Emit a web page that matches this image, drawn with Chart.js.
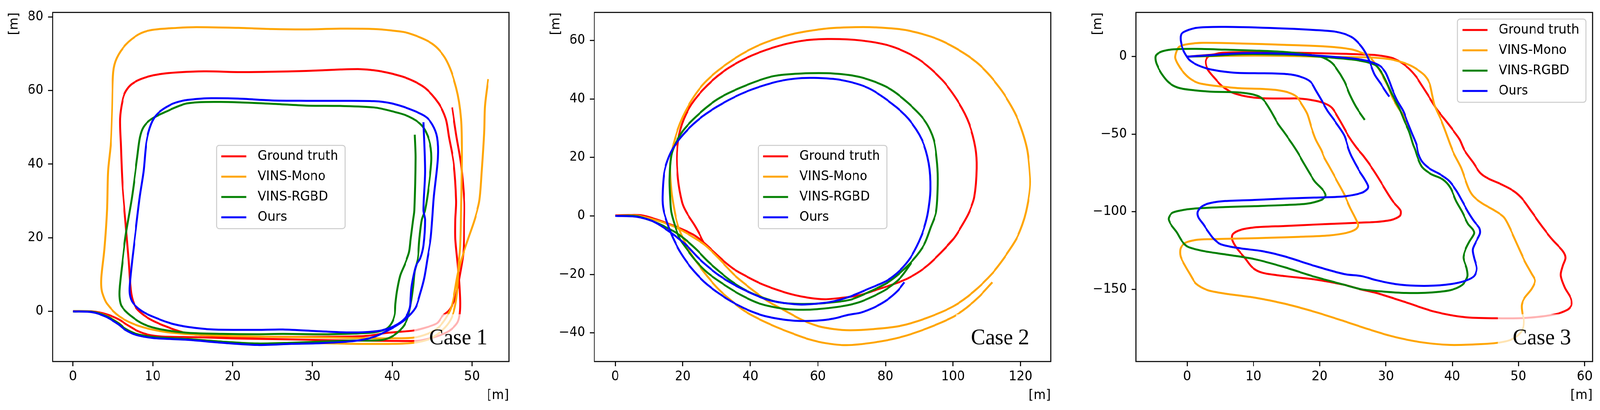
<!DOCTYPE html>
<html lang="en">
<head>
  <meta charset="utf-8" />
  <title>Trajectory comparison</title>
  <style>
html, body {
  margin: 0;
  padding: 0;
  background: #fff;
  overflow: hidden;
}
#page {
  position: relative;
  width: 4232px;
  height: 1049px;
  transform-origin: 0 0;
}
canvas {
  position: absolute;
  top: 0;
}
  </style>
</head>
<body>
  <div id="page">
    <canvas id="case1" width="1366" height="1049" style="left:0px"></canvas>
    <canvas id="case2" width="1366" height="1049" style="left:1433px"></canvas>
    <canvas id="case3" width="1366" height="1049" style="left:2866px"></canvas>
  </div>
  <script src="https://cdn.jsdelivr.net/npm/chart.js"></script>
  <script>
const SERIES_NAMES = ['Ground truth', 'VINS-Mono', 'VINS-RGBD', 'Ours'];
const SERIES_COLORS = ['red', 'orange', 'green', 'blue'];

// ---- Case 1 ----
const case1GroundTruth = [[0,0.1],[2.4,0],[4.1,-0.7],[5.7,-2.1],[6.7,-3.5],[8.1,-5.3],[9.4,-6.3],[11.1,-6.8],[15.5,-7.0],[20,-7.3],[25,-7.5],[30,-7.7],[35,-7.9],[40,-8.0],[42.7,-8.0],[43.7,-7.8],[45.6,-6.75],[47.1,-5.3],[48.1,-3.2],[48.4,-1.2],[48.5,2.1],[48.4,7.3],[48.2,12.6],[47.9,19.7],[47.9,24.9],[48.0,30],[47.7,40],[47.1,47.3],[46.7,52.3],[45.8,56.5],[44.1,60.7],[42.0,63.2],[39.9,64.6],[37.7,65.5],[36.0,65.8],[33.5,65.7],[29.2,65.3],[24.9,65.1],[20.7,65.0],[16.4,65.2],[11.4,64.6],[9.0,63.5],[7.4,61.8],[6.6,59.7],[6.2,57.2],[5.9,52.3],[6.0,45.2],[6.2,34.6],[6.6,24.0],[7.0,13.4],[7.3,5.0],[7.8,1.4],[8.7,-0.7],[10.0,-2.5],[11.8,-4.2],[13.5,-5.5],[15.5,-6.3],[20,-6.8],[25,-6.9],[30,-6.9],[35,-6.8],[37,-6.6],[39.4,-5.8],[42.6,-5.2],[44.0,-4.5],[45.6,-3.2],[46.3,-1.2],[47.1,0.3],[47.8,3.1],[48.1,5.6],[48.4,9.1],[48.9,16.1],[49.0,24.9],[49.0,30],[48.6,40],[48.0,48],[47.5,55.4]];
const case1VinsMono = [[0,0],[2.4,-0.1],[4.1,-1.1],[5.7,-3.1],[6.5,-4.6],[7.8,-6.0],[10,-7.0],[14.4,-7.5],[18.7,-8.2],[23.1,-8.8],[27.4,-8.7],[31,-8.6],[35,-8.8],[40,-8.8],[42.7,-8.5],[44.5,-7.6],[46,-5.6],[47.1,-3],[47.7,0],[48.1,5],[48.3,12.6],[48.5,17.9],[48.6,27.5],[48.7,41.7],[48.6,52.3],[48.0,60.7],[46.7,68.5],[45,72.7],[42,75.6],[39.9,76.3],[37.7,76.7],[33.5,76.8],[29.2,76.6],[24.9,76.7],[20.7,77.0],[15.5,77.2],[13.0,77.0],[9.8,76.4],[8.2,75.2],[6.6,72.4],[5.5,68.8],[5.06,65.0],[4.9,54.4],[4.75,45.9],[4.4,38.1],[4.27,27.5],[3.95,17.0],[3.6,9.9],[3.56,7.1],[3.7,5.0],[4.27,2.1],[5.85,-1.4],[8.2,-3.9],[11.4,-5.5],[15.5,-6.3],[20,-6.7],[25,-6.9],[30,-7.0],[35,-7.2],[40,-7.3],[42.7,-7.1],[44.5,-6.0],[45.8,-4.3],[46.8,-1.5],[47.5,2],[48.2,10.2],[48.7,14.4],[49.5,19.7],[50.3,24.9],[50.9,30],[51.2,38.1],[51.5,48.7],[51.6,55.8],[52.0,63.1]];
const case1VinsRgbd = [[0,0],[2.4,-0.1],[4.1,-1.2],[5.7,-3.2],[6.5,-4.6],[7.8,-6.0],[10,-6.9],[14.4,-7.5],[18.7,-8.2],[23.1,-8.7],[27.4,-8.5],[31,-8.2],[35,-7.9],[38.5,-7.8],[40,-6.75],[41.3,-4.3],[41.9,-1.8],[42.3,2.1],[42.6,6.6],[42.8,10.9],[43.2,14.4],[43.4,19.7],[43.7,24.9],[44.1,27.5],[44.6,34.6],[44.9,41.7],[44.6,46.6],[43.7,50.5],[42,53],[39.9,54.4],[37.7,55.4],[33.5,55.8],[29.2,55.9],[24.9,56.4],[18.5,56.9],[14.3,56.5],[11.4,54.0],[9.8,52.2],[8.85,50.1],[8.4,47.3],[8.05,41.7],[7.4,31.1],[6.6,20.5],[6.2,13.4],[5.85,6.3],[5.85,3.5],[6.1,1.4],[7.2,-1.1],[8.9,-3.5],[11.1,-4.9],[14.4,-5.8],[18.7,-6.1],[23.1,-6.2],[26.3,-6.1],[31,-6.2],[35.3,-6.0],[37.7,-5.7],[39.2,-4.8],[39.9,-3.2],[40.3,-0.8],[40.4,2.1],[40.6,5.6],[41.0,9.8],[41.6,13.0],[42.1,16.1],[42.3,19.7],[42.6,24.9],[42.75,27.5],[42.9,41.7],[42.8,48.0]];
const case1Ours = [[0,0],[2.4,-0.2],[4.1,-1.4],[5.7,-3.5],[6.5,-4.9],[7.8,-6.3],[10,-7.2],[14.4,-7.7],[18.7,-8.5],[23.1,-9.1],[27.4,-8.8],[31,-8.6],[35.3,-8.0],[37.7,-6.9],[40,-4.5],[41.6,-2.2],[42.9,1.0],[43.5,4.9],[44.0,9.1],[44.4,14.4],[44.8,19.7],[45.0,24.9],[45.2,31.1],[45.7,41.7],[45.6,47.3],[45.0,50.8],[44.1,53.0],[42.0,55.1],[39.9,56.5],[37.7,57.1],[33.5,57.2],[29.2,57.2],[24.9,57.3],[20.7,57.8],[17.3,57.9],[15.5,57.7],[13.7,57.2],[12.2,56.1],[10.6,53.7],[9.8,50.9],[9.2,45.9],[8.85,38.1],[8.37,31.1],[7.9,22.6],[7.4,13.4],[7.1,6.3],[7.2,3.9],[7.6,2.1],[8.7,0],[10.0,-1.4],[12.2,-3.2],[14.4,-4.2],[17.6,-4.9],[23.1,-5.0],[26.3,-4.9],[31.1,-5.4],[35.3,-5.7],[38.5,-5.2],[40.3,-3.9],[41.6,-1.8],[42.2,1.0],[42.3,3.8],[42.4,6.6],[42.7,10.2],[43.0,12.6],[43.5,14.4],[43.9,17.9],[44.1,24.9],[43.9,27.5],[44.1,38.1],[43.9,51.4]];
const case1XTicks = [0, 10, 20, 30, 40, 50];
const case1YTicks = [0, 20, 40, 60, 80];
const case1XLimits = [-2.55, 54.6];
const case1YLimits = [-13.6, 81.2];

// ---- Case 2 ----
const case2GroundTruth = [[0,0.2],[4.0,0.3],[7.9,0.2],[11.7,-1.0],[15.6,-2.6],[19.5,-4.4],[23.4,-6.6],[26.3,-9.2],[29.2,-12.3],[32.1,-15.4],[35.0,-18.1],[38.9,-20.7],[42.8,-23.0],[47.7,-25.2],[52.5,-26.9],[57.4,-28.0],[62.2,-28.5],[67.1,-28.0],[72.0,-27.2],[76.5,-25.6],[84.4,-22.5],[88.3,-20.3],[92.2,-17.2],[96.2,-12.8],[100.1,-7.9],[102.8,-3.0],[104.8,1.4],[106.3,6.5],[107.0,16.3],[106.6,23.4],[104.8,31.4],[101.8,38.5],[96.8,46.5],[89.8,53.6],[81.8,58.0],[72.8,60.0],[62.8,60.5],[54.8,59.8],[46.8,57.6],[38.8,54.0],[31.8,49.2],[25.8,42.9],[21.8,36.7],[19.3,29.6],[18.3,21.6],[18.6,12.7],[19.8,4.7],[21.0,1.4],[23.4,-3.0],[24.9,-6.1],[26.3,-9.2],[29.2,-12.3],[32.1,-15.4],[35.0,-18.1],[38.9,-20.7],[42.8,-23.0],[47.7,-25.2],[52.5,-26.9],[57.4,-28.0],[62.2,-28.5],[67.1,-28.0],[72.0,-27.2],[76.5,-25.6],[84.4,-22.5],[88.3,-20.3],[92.2,-17.2],[96.2,-12.8],[100.1,-7.9]];
const case2VinsMono = [[0,0],[6.4,0.1],[11.3,-1.2],[16.1,-3.0],[19.5,-4.8],[23.4,-7.5],[26.3,-9.7],[29.2,-12.8],[32.1,-16.3],[35.0,-19.9],[38.0,-22.9],[41.4,-26.0],[45.2,-29.2],[50.1,-32.3],[55.0,-35.4],[59.8,-37.6],[64.7,-38.7],[69.5,-39.1],[76.5,-38.7],[84.4,-37.6],[92.2,-34.9],[100.1,-30.9],[106.0,-26.0],[111.8,-19.4],[115.8,-13.2],[118.9,-7.5],[120.5,-3.0],[121.6,1.4],[122.6,8],[122.8,12.7],[121.8,23.4],[118.8,34.0],[113.8,43.8],[106.8,52.7],[96.8,59.8],[86.8,63.4],[76.8,64.5],[68.8,64.5],[61.8,64.0],[51.8,62.0],[41.8,58.0],[32.8,51.8],[25.8,44.7],[20.8,35.8],[17.8,26.9],[16.3,18.0],[16.6,9.0],[17.6,1.4],[18.5,-3.0],[20.0,-7.5],[21.9,-11.9],[24.4,-16.3],[27.3,-20.7],[30.7,-25.2],[34.1,-28.7],[38.0,-32.3],[42.8,-35.4],[47.7,-38.0],[52.5,-40.2],[57.4,-42.2],[62.2,-43.5],[68.4,-44.2],[76.5,-43.3],[84.4,-41.5],[92.2,-38.5],[100.1,-34.5],[104.0,-31.4],[107.9,-27.4],[111.6,-22.7]];
const case2VinsRgbd = [[0,0],[6.4,-0.1],[11.3,-1.9],[15.1,-3.9],[18.5,-6.1],[21.5,-8.8],[24.4,-11.9],[27.3,-15.4],[30.7,-18.9],[34.6,-22.5],[38.9,-25.6],[43.8,-28.0],[48.7,-29.6],[55.0,-30.1],[62.2,-29.8],[69.5,-28.7],[74.6,-26.3],[80.5,-22.9],[84.4,-19.4],[88.3,-14.9],[91.5,-9.7],[93.4,-3.9],[95.0,1.4],[95.5,10.9],[95.3,18.0],[94.3,26.0],[91.8,32.3],[86.8,38.5],[80.8,43.8],[72.8,47.4],[64.8,48.7],[54.8,48.7],[46.8,47.8],[38.8,44.7],[30.8,40.3],[24.8,34.9],[19.8,28.7],[16.8,21.6],[16.1,12.7],[16.3,5.6],[16.6,1.4],[17.6,-3.0],[19.0,-7.5],[21.0,-11.0],[23.9,-15.4],[27.3,-19.4],[32.1,-23.4],[37.0,-26.9],[42.8,-30.0],[50.1,-31.8],[55.0,-32.1],[59.8,-31.9],[67.1,-30.9],[72,-29.6],[76.5,-27.4],[80.5,-24.9],[84.4,-21.2],[87.7,-15.9]];
const case2Ours = [[0,0],[6.4,-0.3],[11.3,-1.9],[15.1,-4.6],[18.5,-7.5],[21.5,-10.5],[24.4,-14.1],[27.3,-17.2],[30.7,-20.3],[35.0,-23.4],[40.4,-26.5],[45.2,-28.7],[50.1,-29.8],[55.0,-30.3],[59.8,-30.0],[64.7,-29.2],[69.5,-27.6],[75,-24.9],[80.5,-22.1],[84.4,-18.5],[87.5,-14.1],[89.9,-8.8],[91.5,-3.9],[92.6,1.4],[93.3,9.2],[92.8,18.0],[90.8,26.0],[86.8,33.2],[81.8,38.5],[74.8,43.8],[66.8,46.5],[58.8,47.2],[52.8,46.9],[46.8,45.6],[38.8,42.5],[31.8,38.5],[25.8,34.0],[20.8,28.7],[16.8,22.5],[14.6,15.4],[14.0,6.5],[14.3,2.0],[15.6,-3.0],[17.1,-7.5],[19.5,-12.8],[22.4,-17.6],[26.3,-22.5],[30.7,-26.5],[35.5,-30.0],[40.4,-32.7],[45.2,-34.5],[52.5,-35.8],[59.8,-35.8],[64.7,-35.1],[69.1,-33.8],[72.6,-33.1],[76.5,-31.4],[80.5,-28.7],[83.6,-25.6],[85.6,-22.7]];
const case2XTicks = [0, 20, 40, 60, 80, 100, 120];
const case2YTicks = [-40, -20, 0, 20, 40, 60];
const case2XLimits = [-6.18, 128.9];
const case2YLimits = [-49.8, 69.6];

// ---- Case 3 ----
const case3GroundTruth = [[0,0],[3.5,1.2],[5.7,2.2],[10,2.6],[15,2.6],[20,2.2],[24,1.8],[26.3,1.4],[28.5,1.0],[30.8,-0.7],[32.1,-3.2],[33.4,-7.4],[34.6,-13.2],[35.5,-19.1],[36.6,-26.6],[37.7,-34.1],[38.8,-40.0],[40.0,-46.7],[41.1,-53.3],[41.8,-60.0],[43.1,-67.9],[44.2,-74.8],[45.3,-78.3],[47.6,-82.7],[49.4,-87.0],[50.7,-92.3],[52.0,-100.1],[53.6,-109.7],[55.2,-118.4],[56.7,-125.4],[57.1,-129.7],[56.7,-134.9],[56.4,-141.0],[57.0,-148.9],[57.9,-155.8],[58.0,-160.2],[57.4,-163.2],[55.4,-166.3],[51.0,-168.5],[46.7,-168.7],[41.9,-168.0],[37.4,-164.5],[33.0,-158.4],[28.5,-152.3],[26.3,-150.2],[23.7,-147.1],[19.2,-143.6],[14.7,-141.5],[11.3,-139.3],[9.8,-135.8],[8.7,-129.7],[7.5,-123.6],[6.8,-117.9],[6.9,-114.5],[8.0,-111.8],[10.2,-110.1],[14.7,-109.2],[19.2,-108.3],[23.7,-107.5],[26.3,-107.0],[28.5,-106.6],[30.8,-105.3],[32.1,-102.7],[32.2,-99.2],[31.0,-93.1],[29.6,-83.5],[28.1,-73.1],[26.6,-64.0],[25.5,-58.4],[24.3,-50.8],[23.0,-40.8],[21.9,-33.3],[20.9,-30.4],[19.2,-28.3],[16.9,-27.0],[14.7,-27.0],[11.3,-26.8],[9.1,-25.8],[6.9,-23.3],[5.3,-19.1],[4.0,-13.2],[3.1,-8.2],[2.8,-3.2],[3.1,-0.3],[4.0,1.4],[5.7,2.6],[10,2.8],[15,2.6],[20,2.2],[24,1.8],[26.3,1.4],[28.5,1.0],[30.8,-0.7],[32.1,-3.2],[33.4,-7.4],[34.6,-13.2],[35.5,-19.1],[36.6,-26.6],[37.7,-34.1],[38.8,-40.0],[40.0,-46.7]];
const case3VinsMono = [[0,0],[3.5,0.3],[8,0.6],[12.5,0.6],[16.9,0.3],[21.4,-0.2],[24.8,-0.3],[27.5,-0.5],[30.3,-1.5],[32.1,-3.2],[33.7,-5.7],[35.0,-9.1],[35.9,-12.4],[36.6,-17.4],[37.0,-24.9],[37.3,-30.8],[37.7,-35.0],[38.4,-41.6],[39.0,-48.3],[39.7,-56.7],[40.2,-62],[41.3,-71.3],[41.9,-78.3],[42.6,-86.1],[43.3,-90.5],[44.6,-94.8],[46.4,-99.2],[47.8,-103.5],[48.7,-110.5],[49.8,-121.0],[50.9,-131.4],[52.0,-140.1],[52.5,-144.5],[52.0,-149.7],[50.9,-155.8],[50.5,-160.2],[50.6,-165.8],[50.8,-168.9],[50.7,-175.0],[50.0,-179.4],[48.7,-182.8],[46.7,-184.6],[44.2,-185.4],[39.7,-185.9],[35.2,-184.1],[30.8,-180.2],[26.8,-175],[23.7,-170.6],[19.2,-164.5],[14.7,-159.3],[10.2,-155.4],[5.7,-152.8],[3.1,-150.6],[1.3,-146.2],[0.4,-140.1],[-0.3,-134.9],[-1.0,-128.8],[-1.0,-123.6],[-0.3,-120.1],[1.3,-118.2],[3.5,-117.7],[8.0,-117.3],[12.5,-116.8],[16.9,-116.2],[21.4,-115.3],[24.1,-113.6],[25.4,-111.4],[25.8,-108.8],[25.4,-104.4],[24.6,-97.5],[23.7,-88.8],[22.5,-79.2],[21.4,-70.5],[20.7,-65.1],[20.2,-60],[19.4,-53.4],[18.7,-45.0],[18.1,-36.7],[17.2,-30.0],[16.5,-25.8],[15.4,-23.3],[13.6,-21.6],[11.3,-20.8],[8.0,-20.4],[5.7,-19.5],[3.5,-18.4],[1.7,-17.0],[0.4,-14.1],[-0.75,-9.1],[-1.4,-4.9],[-1.8,-0.7],[-1.6,3.5],[-1.2,6.4],[0.15,8.1],[2.4,8.9],[8.0,8.5],[14.7,7.6],[21.4,6.4],[24.8,4.7],[26.3,2.6],[27.4,0.5],[28.3,-4.0],[29.0,-8.5],[29.6,-13.2],[30.3,-19.1],[31.0,-26.6],[31.9,-33.3],[32.8,-39.1],[33.6,-46.7]];
const case3VinsRgbd = [[0,0],[3.5,0.5],[8,1.5],[12.5,1.5],[16.9,1.0],[21.4,-0.5],[24.8,-1.8],[26.3,-2.8],[27.6,-4.1],[28.5,-5.7],[29.4,-10.7],[30.1,-16.6],[30.8,-23.3],[31.4,-28.3],[32.1,-34.1],[32.8,-41.6],[33.5,-48.3],[34.1,-56.7],[34.4,-60],[34.8,-65.2],[35.5,-71.4],[36.8,-75.7],[38.6,-79.2],[39.7,-84.4],[40.6,-93.1],[41.5,-100.1],[42.4,-107.9],[43.1,-111.4],[43.3,-114.0],[42.6,-119.2],[42.0,-124.5],[41.7,-129.7],[42.2,-136.7],[42.3,-141.9],[41.5,-147.2],[39.7,-150.6],[36.4,-152.2],[33.0,-152.4],[29.6,-151.5],[26.3,-150.0],[23.7,-147.1],[19.2,-141.9],[14.7,-135.8],[10.2,-130.6],[5.7,-127.5],[2.4,-125.3],[0.15,-122.7],[-0.75,-119.2],[-1.6,-113.1],[-2.5,-107.9],[-2.8,-104.4],[-2.3,-100.9],[-1.0,-99.2],[1.3,-97.9],[5.7,-97.0],[10.2,-96.4],[14.7,-95.7],[18.1,-94.8],[20.3,-92.3],[20.9,-89.6],[20.5,-86.1],[19.2,-80.1],[17.6,-68.7],[16.9,-63.4],[15.8,-55.9],[14.7,-49.2],[13.6,-42.5],[12.5,-34.1],[11.6,-28.3],[10.7,-25.4],[9.1,-23.7],[6.9,-22.9],[3.5,-22.6],[0.8,-21.6],[-1.4,-20.0],[-2.8,-16.6],[-3.9,-10.7],[-4.6,-4.9],[-4.8,-0.7],[-4.6,1.4],[-3.7,3.5],[-2.1,4.7],[1.3,5.0],[5.7,4.5],[10.2,3.9],[14.7,3.0],[18.1,1.4],[20.3,-0.3],[21.6,-3.2],[22.5,-7.4],[23.7,-15.8],[24.6,-24.9],[25.5,-32.5],[26.8,-40.8]];
const case3Ours = [[0,0],[3.5,1.0],[8.0,2.2],[12.5,2.2],[16.9,1.4],[21.4,0.1],[24.8,-1.1],[26.3,-2.0],[27.6,-3.2],[29.0,-5.7],[29.9,-9.9],[30.5,-15.8],[31.0,-21.6],[31.7,-28.3],[32.6,-35.0],[33.2,-41.6],[33.9,-49.2],[34.6,-56.7],[34.9,-62.6],[35.5,-67.9],[36.6,-72.2],[38.1,-75.7],[39.5,-80.0],[40.6,-86.2],[41.5,-93.1],[42.4,-100.1],[43.3,-106.2],[44.1,-110.5],[44.2,-114.0],[43.5,-120.1],[43.1,-124.5],[43.3,-129.7],[43.7,-136.7],[43.3,-141.5],[42.0,-144.5],[39.7,-146.7],[36.4,-147.8],[33.0,-147.4],[30.8,-146.2],[28.5,-144.1],[26.3,-141.5],[23.7,-140.2],[19.2,-134.9],[14.7,-128.8],[11.3,-125.4],[8.0,-123.6],[5.1,-121.0],[4.0,-117.5],[3.1,-112.3],[2.4,-107.9],[1.7,-103.6],[1.6,-100.1],[2.2,-96.6],[3.5,-94.4],[5.7,-93.1],[10.2,-92.4],[14.7,-91.5],[19.2,-90.9],[23.7,-90.1],[26.3,-87.9],[27.2,-85.3],[27.3,-83.5],[26.8,-79.2],[25.9,-73.1],[24.8,-64.2],[24.4,-60],[23.7,-50.8],[22.3,-41.6],[21.2,-35.0],[20.3,-28.3],[19.4,-21.6],[18.7,-16.6],[17.6,-13.7],[15.8,-11.6],[13.6,-10.9],[10.2,-10.7],[6.9,-10.3],[3.5,-8.2],[1.7,-5.7],[0.4,-2.4],[-0.3,1.8],[-0.75,6.0],[-1.0,11.8],[-0.75,15.2],[1.3,18.5],[5.7,19.2],[12.5,18.5],[19.2,17.2],[22.5,16.0],[24.8,12.7],[26.1,7.6],[26.9,2.6],[27.6,-4.0],[28.3,-11.6],[29.2,-17.4],[30.1,-23.3],[30.5,-25.8]];
const case3XTicks = [0, 10, 20, 30, 40, 50, 60];
const case3YTicks = [-150, -100, -50, 0];
const case3XLimits = [-7.71, 61.17];
const case3YLimits = [-196.6, 28.5];

const FONT = "'DejaVu Sans', sans-serif";
const SERIF = "'Liberation Serif', 'Times New Roman', serif";

// layout is written for a 4232px wide page; squeeze it horizontally
// when the window is narrower so all three panels stay visible
const pageScaleX = window.innerWidth / 4232;
if (Math.abs(pageScaleX - 1) > 0.002) {
  document.getElementById('page').style.transform = 'scale(' + pageScaleX + ', 1)';
}

// matplotlib style minus sign
function tickText(v) {
  const r = Math.round(v);
  return r < 0 ? '\u2212' + (-r) : String(r);
}

// spines, "Case n" label on a half transparent box, and the legend frame
const framePlugin = {
  id: 'frame',
  afterDatasetsDraw(chart, args, opts) {
    const ctx = chart.ctx;
    const a = chart.chartArea;

    ctx.save();
    ctx.beginPath();
    ctx.rect(a.left, a.top, a.right - a.left, a.bottom - a.top);
    ctx.clip();
    ctx.font = '57px ' + SERIF;
    const tw = ctx.measureText(opts.caseLabel).width;
    const tx = a.right - 57;
    const ty = a.bottom - 44;
    ctx.fillStyle = 'rgba(255,255,255,0.7)';
    ctx.fillRect(tx - tw - 40, ty - 77, tw + 80, 200);
    ctx.fillStyle = '#000';
    ctx.textAlign = 'right';
    ctx.textBaseline = 'alphabetic';
    ctx.fillText(opts.caseLabel, tx, ty);
    ctx.restore();

    ctx.save();
    ctx.strokeStyle = '#000';
    ctx.lineWidth = 2.7;
    ctx.strokeRect(a.left, a.top, a.right - a.left, a.bottom - a.top);

    // legend box
    const w = 340, h = 213, r = 7;
    let lx, ly;
    if (opts.legendLoc === 'upper right') {
      lx = a.right - 17 - w;
      ly = a.top + 17;
    } else {
      lx = (a.left + a.right) / 2 - w / 2;
      ly = (a.top + a.bottom) / 2 - h / 2;
    }
    ctx.beginPath();
    ctx.moveTo(lx + r, ly);
    ctx.arcTo(lx + w, ly, lx + w, ly + h, r);
    ctx.arcTo(lx + w, ly + h, lx, ly + h, r);
    ctx.arcTo(lx, ly + h, lx, ly, r);
    ctx.arcTo(lx, ly, lx + w, ly, r);
    ctx.closePath();
    ctx.fillStyle = 'rgba(255,255,255,0.8)';
    ctx.fill();
    ctx.strokeStyle = '#cccccc';
    ctx.lineWidth = 2.5;
    ctx.stroke();

    ctx.font = '33px ' + FONT;
    ctx.textAlign = 'left';
    ctx.textBaseline = 'middle';
    chart.data.datasets.forEach((ds, i) => {
      const y = ly + 28 + 52 * i;
      ctx.beginPath();
      ctx.moveTo(lx + 13, y);
      ctx.lineTo(lx + 79, y);
      ctx.strokeStyle = ds.borderColor;
      ctx.lineWidth = 5;
      ctx.stroke();
      ctx.fillStyle = '#000';
      ctx.fillText(ds.label, lx + 109, y + 1);
    });
    ctx.restore();
  }
};

function axis(limits, ticks, horizontal) {
  return {
    type: 'linear',
    position: horizontal ? 'bottom' : 'left',
    min: limits[0],
    max: limits[1],
    afterBuildTicks: s => { s.ticks = ticks.map(v => ({value: v})); },
    afterFit: s => {
      if (horizontal) s.height = 124;
      else s.width = 139;
    },
    grid: {
      display: true,
      drawOnChartArea: false,
      drawTicks: true,
      tickLength: 12,
      tickWidth: 2.7,
      tickColor: '#000'
    },
    border: { display: false },
    ticks: {
      color: '#000',
      font: { family: FONT, size: 33 },
      padding: horizontal ? 8 : 12,
      maxRotation: 0,
      autoSkip: false,
      callback: v => tickText(v)
    },
    title: {
      display: true,
      text: '[m]',
      align: 'end',
      color: '#000',
      font: { family: FONT, size: 33 },
      padding: horizontal ? { top: 0, bottom: 17 } : { top: 19, bottom: 0 }
    }
  };
}

function drawCase(id, series, xLimits, yLimits, xTicks, yTicks, caseLabel, legendLoc) {
  const datasets = series.map((pts, i) => ({
    label: SERIES_NAMES[i],
    data: pts.map(p => ({x: p[0], y: p[1]})),
    borderColor: SERIES_COLORS[i],
    backgroundColor: SERIES_COLORS[i],
    borderWidth: 5,
    pointRadius: 0,
    showLine: true,
    fill: false,
    tension: 0.3,
    borderJoinStyle: 'round',
    order: 4 - i   // later series on top, like the original plot
  }));
  return new Chart(document.getElementById(id), {
    type: 'scatter',
    data: { datasets: datasets },
    options: {
      responsive: false,
      animation: false,
      devicePixelRatio: 1,
      events: [],
      layout: { padding: { left: 0, top: 27, right: 20, bottom: 0 } },
      scales: {
        x: axis(xLimits, xTicks, true),
        y: axis(yLimits, yTicks, false)
      },
      plugins: {
        legend: { display: false },
        tooltip: { enabled: false },
        frame: { caseLabel: caseLabel, legendLoc: legendLoc }
      }
    },
    plugins: [framePlugin]
  });
}

drawCase('case1', [case1GroundTruth, case1VinsMono, case1VinsRgbd, case1Ours],
  case1XLimits, case1YLimits, case1XTicks, case1YTicks, 'Case 1', 'center');
drawCase('case2', [case2GroundTruth, case2VinsMono, case2VinsRgbd, case2Ours],
  case2XLimits, case2YLimits, case2XTicks, case2YTicks, 'Case 2', 'center');
drawCase('case3', [case3GroundTruth, case3VinsMono, case3VinsRgbd, case3Ours],
  case3XLimits, case3YLimits, case3XTicks, case3YTicks, 'Case 3', 'upper right');
  </script>
</body>
</html>
